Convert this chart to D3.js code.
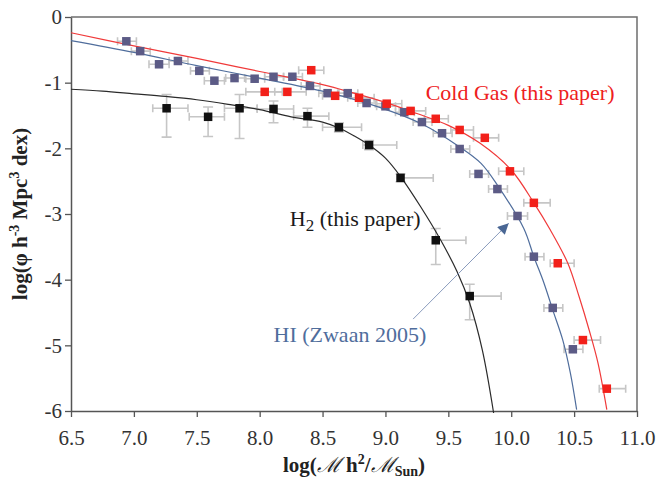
<!DOCTYPE html>
<html>
<head>
<meta charset="utf-8">
<script src="https://cdn.jsdelivr.net/npm/d3@7"></script>
<style>
    body { margin: 0; background: #fff; }
    svg text { font-family: "Liberation Serif", "Times New Roman", serif; }
</style>
</head>
<body>
<div id="chart"></div>
<script>
// axis ticks
const xTicks = [6.5, 7.0, 7.5, 8.0, 8.5, 9.0, 9.5, 10.0, 10.5, 11.0];
const yTicks = [0, -1, -2, -3, -4, -5, -6];

// HI (Zwaan 2005) points
const hiMass = [6.94, 7.05, 7.20, 7.35, 7.52, 7.64, 7.80, 7.96, 8.11, 8.26, 8.40, 8.54, 8.70, 8.85, 9.00, 9.15, 9.29, 9.45, 9.59, 9.74, 9.89, 10.05, 10.18, 10.33, 10.49];
const hiPhi = [-0.37, -0.52, -0.72, -0.67, -0.82, -0.97, -0.93, -0.94, -0.91, -0.91, -1.05, -1.16, -1.16, -1.31, -1.36, -1.45, -1.60, -1.77, -2.01, -2.39, -2.62, -3.03, -3.65, -4.43, -5.06];
const hiErrL = [0.07, 0.07, 0.08, 0.07, 0.07, 0.08, 0.07, 0.07, 0.07, 0.07, 0.07, 0.07, 0.07, 0.07, 0.07, 0.07, 0.07, 0.07, 0.07, 0.07, 0.07, 0.08, 0.07, 0.07, 0.07];
const hiErrR = [0.08, 0.08, 0.08, 0.08, 0.08, 0.08, 0.08, 0.08, 0.08, 0.08, 0.08, 0.08, 0.08, 0.08, 0.08, 0.08, 0.08, 0.08, 0.08, 0.08, 0.08, 0.08, 0.08, 0.08, 0.08];

// Cold gas (this paper) points
const gasMass = [8.04, 8.22, 8.41, 8.60, 8.79, 9.01, 9.20, 9.40, 9.59, 9.79, 9.99, 10.18, 10.37, 10.57, 10.76];
const gasPhi = [-1.14, -1.14, -0.81, -1.20, -1.23, -1.32, -1.43, -1.55, -1.72, -1.84, -2.35, -2.83, -3.75, -4.92, -5.66];
const gasErrL = [0.15, 0.10, 0.10, 0.10, 0.09, 0.09, 0.09, 0.09, 0.07, 0.09, 0.09, 0.08, 0.06, 0.07, 0.06];
const gasErrR = [0.14, 0.15, 0.10, 0.12, 0.12, 0.12, 0.12, 0.10, 0.11, 0.11, 0.11, 0.13, 0.13, 0.14, 0.15];

// H2 (this paper) points
const h2Mass = [7.26, 7.59, 7.84, 8.11, 8.38, 8.63, 8.87, 9.12, 9.40, 9.67];
const h2Phi = [-1.39, -1.52, -1.39, -1.40, -1.51, -1.68, -1.95, -2.45, -3.40, -4.25];
const h2ErrL = [0.11, 0.15, 0.12, 0.13, 0.11, 0.13, 0.05, 0.02, 0.00, 0.00];
const h2ErrR = [0.17, 0.13, 0.14, 0.16, 0.17, 0.18, 0.22, 0.26, 0.24, 0.25];
const h2ErrUp = [0.21, 0.15, 0.21, 0.12, 0.12, 0.07, 0.07, 0.06, 0.18, 0.18];
const h2ErrDown = [0.44, 0.30, 0.46, 0.21, 0.17, 0.07, 0.07, 0.06, 0.37, 0.36];

// fitted curves
const gasCurveX = [6.5, 7.0, 7.5, 8.0, 8.5, 8.75, 9.0, 9.25, 9.5, 9.75, 10.0, 10.18, 10.31, 10.45, 10.54, 10.62, 10.69, 10.76];
const gasCurveY = [-0.24, -0.44, -0.63, -0.83, -1.03, -1.16, -1.30, -1.47, -1.65, -1.92, -2.33, -2.83, -3.24, -3.75, -4.26, -4.77, -5.27, -5.98];
const hiCurveX = [6.5, 7.0, 7.5, 8.0, 8.5, 8.96, 9.29, 9.59, 9.76, 9.89, 10.1, 10.18, 10.26, 10.33, 10.41, 10.47, 10.52];
const hiCurveY = [-0.36, -0.54, -0.74, -0.93, -1.13, -1.38, -1.63, -1.98, -2.23, -2.56, -3.22, -3.65, -4.05, -4.46, -4.92, -5.42, -5.98];
const h2CurveX = [6.5, 6.75, 7.0, 7.25, 7.5, 7.75, 8.0, 8.25, 8.5, 8.63, 8.75, 8.87, 9.0, 9.12, 9.28, 9.44, 9.57, 9.67, 9.77, 9.86];
const h2CurveY = [-1.10, -1.13, -1.17, -1.21, -1.26, -1.33, -1.41, -1.52, -1.60, -1.69, -1.81, -1.95, -2.15, -2.43, -2.89, -3.40, -3.88, -4.36, -5.07, -6.03];

const margin = {top: 17, right: 29, bottom: 72, left: 71};
const width = 666 - margin.left - margin.right;
const height = 483 - margin.top - margin.bottom;

const svg = d3.select("#chart").append("svg")
    .attr("width", 666)
    .attr("height", 483)
    .append("g")
    .attr("transform", `translate(${margin.left}, ${margin.top})`);

const x = d3.scaleLinear().domain([6.5, 11]).range([0, width]);
const y = d3.scaleLinear().domain([-6, 0]).range([height, 0]);

// frame top and right
svg.append("path")
    .attr("d", `M0,0H${width}V${height}`)
    .attr("fill", "none")
    .attr("stroke", "#6e6e6e")
    .attr("stroke-width", 1.5);

const xAxis = d3.axisBottom(x).tickValues(xTicks).tickFormat(d3.format(".1f")).tickSize(6).tickSizeOuter(0);
const yAxis = d3.axisLeft(y).tickValues(yTicks).tickFormat(d => String(d)).tickSize(6).tickSizeOuter(0);

const gx = svg.append("g")
    .attr("transform", `translate(0, ${height})`)
    .call(xAxis);
const gy = svg.append("g").call(yAxis);

[gx, gy].forEach(g => {
    g.select(".domain").attr("stroke", "#555").attr("stroke-width", 1.5);
    g.selectAll(".tick line").attr("stroke", "#555").attr("stroke-width", 1.3);
    g.selectAll(".tick text")
        .attr("fill", "#333")
        .style("font-size", "21px")
        .style("font-family", "Liberation Serif");
});
gx.selectAll(".tick text").attr("y", 19);

// axis titles
const xTitle = svg.append("text")
    .attr("x", width / 2)
    .attr("y", height + 61)
    .attr("text-anchor", "middle")
    .attr("font-weight", "bold")
    .style("font-size", "21px")
    .attr("fill", "#222");
xTitle.append("tspan").text("log(");
xTitle.append("tspan").attr("font-style", "italic").attr("font-weight", "normal").text("ℳ");
xTitle.append("tspan").text(" h");
xTitle.append("tspan").style("font-size", "14px").attr("dy", -8).text("2");
xTitle.append("tspan").attr("dy", 8).text("/");
xTitle.append("tspan").attr("font-style", "italic").attr("font-weight", "normal").text("ℳ");
xTitle.append("tspan").style("font-size", "14px").attr("dy", 4).text("Sun");
xTitle.append("tspan").attr("dy", -4).text(")");

const yTitle = svg.append("text")
    .attr("transform", `translate(${-44}, ${height / 2}) rotate(-90)`)
    .attr("text-anchor", "middle")
    .attr("font-weight", "bold")
    .style("font-size", "21px")
    .attr("fill", "#222");
yTitle.append("tspan").text("log(φ h");
yTitle.append("tspan").style("font-size", "14px").attr("dy", -8).text("-3");
yTitle.append("tspan").attr("dy", 8).text(" Mpc");
yTitle.append("tspan").style("font-size", "14px").attr("dy", -8).text("3");
yTitle.append("tspan").attr("dy", 8).text(" dex)");

// error bars
const errColor = "#c6c6c6";
const errG = svg.append("g").attr("stroke", errColor).attr("stroke-width", 1.6).attr("fill", "none");

function hBars(mass, phi, errL, errR) {
    mass.forEach((m, i) => {
        const x0 = x(m - errL[i]), x1 = x(m + errR[i]), yy = y(phi[i]);
        errG.append("path")
            .attr("d", `M${x0},${yy}H${x1}M${x0},${yy - 4}V${yy + 4}M${x1},${yy - 4}V${yy + 4}`);
    });
}
hBars(hiMass, hiPhi, hiErrL, hiErrR);
hBars(gasMass, gasPhi, gasErrL, gasErrR);
hBars(h2Mass, h2Phi, h2ErrL, h2ErrR);
h2Mass.forEach((m, i) => {
    const xx = x(m), y0 = y(h2Phi[i] - h2ErrDown[i]), y1 = y(h2Phi[i] + h2ErrUp[i]);
    errG.append("path")
        .attr("d", `M${xx},${y0}V${y1}M${xx - 5},${y0}H${xx + 5}M${xx - 5},${y1}H${xx + 5}`);
});

// curves
const line = d3.line()
    .x(d => x(d[0]))
    .y(d => y(d[1]))
    .curve(d3.curveCatmullRom.alpha(0.5));

const curves = [
    {xs: h2CurveX, ys: h2CurveY, color: "#2b2b2b"},
    {xs: hiCurveX, ys: hiCurveY, color: "#4f6d9c"},
    {xs: gasCurveX, ys: gasCurveY, color: "#f03a3a"}
];
curves.forEach(c => {
    svg.append("path")
        .datum(d3.zip(c.xs, c.ys))
        .attr("fill", "none")
        .attr("stroke", c.color)
        .attr("stroke-width", 1.2)
        .attr("d", line);
});

// markers
const sq = 8.5;
function squares(mass, phi, color) {
    svg.append("g").selectAll("rect")
        .data(d3.zip(mass, phi))
        .join("rect")
        .attr("x", d => x(d[0]) - sq / 2)
        .attr("y", d => y(d[1]) - sq / 2)
        .attr("width", sq)
        .attr("height", sq)
        .attr("fill", color);
}
squares(hiMass, hiPhi, "#5c5b86");
squares(gasMass, gasPhi, "#f2201a");
squares(h2Mass, h2Phi, "#111111");

// annotations
svg.append("text")
    .attr("x", x(9.32))
    .attr("y", y(-1.26))
    .attr("fill", "#ee2020")
    .style("font-size", "22px")
    .text("Cold Gas (this paper)");

const h2Label = svg.append("text")
    .attr("x", x(8.24))
    .attr("y", y(-3.18))
    .attr("fill", "#1a1a1a")
    .style("font-size", "22px");
h2Label.append("tspan").text("H");
h2Label.append("tspan").style("font-size", "17px").attr("dy", 5).text("2");
h2Label.append("tspan").attr("dy", -5).text(" (this paper)");

svg.append("text")
    .attr("x", x(8.11))
    .attr("y", y(-4.95))
    .attr("fill", "#4f6d9c")
    .style("font-size", "22px")
    .text("HI (Zwaan 2005)");

svg.append("defs").append("marker")
    .attr("id", "arrowhead")
    .attr("viewBox", "0 0 10 10")
    .attr("refX", 10)
    .attr("refY", 5)
    .attr("markerWidth", 13)
    .attr("markerHeight", 11)
    .attr("markerUnits", "userSpaceOnUse")
    .attr("orient", "auto")
    .append("path")
    .attr("d", "M0,0L10,5L0,10Z")
    .attr("fill", "#4a6794");

svg.append("line")
    .attr("x1", x(9.22))
    .attr("y1", y(-4.60))
    .attr("x2", x(9.98))
    .attr("y2", y(-3.14))
    .attr("stroke", "#8a9cbd")
    .attr("stroke-width", 1)
    .attr("marker-end", "url(#arrowhead)");
</script>
</body>
</html>
